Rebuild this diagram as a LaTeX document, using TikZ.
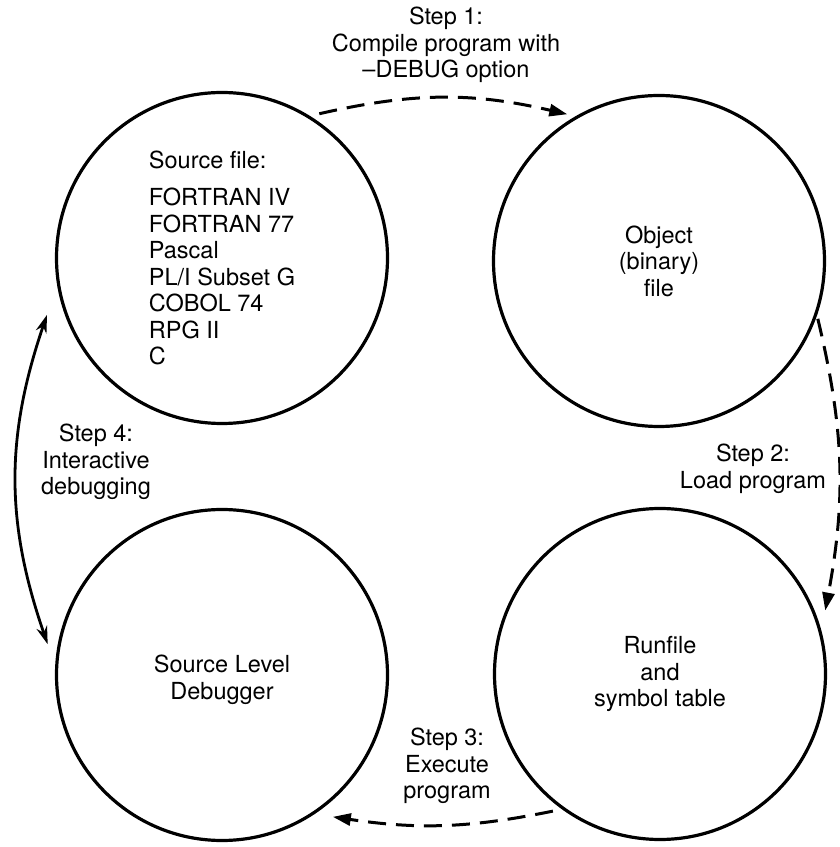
\documentclass[tikz,border=0pt]{standalone}
\usepackage{fontspec}
\setmainfont{TeX Gyre Heros}
\usetikzlibrary{arrows.meta,calc}
\begin{document}
\begin{tikzpicture}[x=1pt,y=1pt,
  every node/.style={font=\fontsize{23.5}{26.5}\selectfont},
  stage/.style={circle,draw,line width=3.2pt,minimum size=331pt,inner sep=0pt,align=center},
  flow/.style={line width=3pt,dash pattern=on 18pt off 10pt,-{Triangle[length=18pt,width=12pt]}},
  debugloop/.style={line width=2.8pt,{Stealth[length=18pt,width=11pt]}-{Stealth[length=18pt,width=11pt]}},
  steplabel/.style={align=center,inner sep=0pt}]
  % page frame
  \fill[white] (0,0) rectangle (840,847);
  \useasboundingbox (0,0) rectangle (840,847);

  % the four stages
  \node[stage,align=left] (tl) at (222,589)
    {Source file:\\[11pt]FORTRAN IV\\FORTRAN 77\\Pascal\\PL/I Subset G\\COBOL 74\\RPG II\\C};
  \node[stage] (tr) at (659,586) {Object\\(binary)\\file};
  \node[stage] (bl) at (222,172) {};
  \node[align=center,inner sep=0pt] (bltext) at (222,167) {Source Level\\Debugger};
  \node[stage] (br) at (660,173) {Runfile\\and\\symbol table};

  % step labels
  \node[steplabel] (s1) at (446,802) {Step 1:\\Compile program with\\–DEBUG option};
  \node[steplabel] (s2) at (753,378) {Step 2:\\Load program};
  \node[steplabel] (s3) at (447,81) {Step 3:\\Execute\\program};
  \node[steplabel] (s4) at (96,385) {Step 4:\\Interactive\\debugging};

  % connectors
  \draw[flow] ($(tl.center)+(56:174)$) to[bend left=13] ($(tr.center)+(122:173)$);
  \draw[flow] ($(tr.center)+(-20:169)$) to[bend left=12] ($(br.center)+(21:177)$);
  \draw[flow] ($(br.center)+(232:174)$) to[bend left=10] ($(bl.center)+(-52:180)$);
  \draw[debugloop] ($(tl.center)+(198:184)$) to[bend right=19] ($(bl.center)+(170:177)$);
\end{tikzpicture}
\end{document}
